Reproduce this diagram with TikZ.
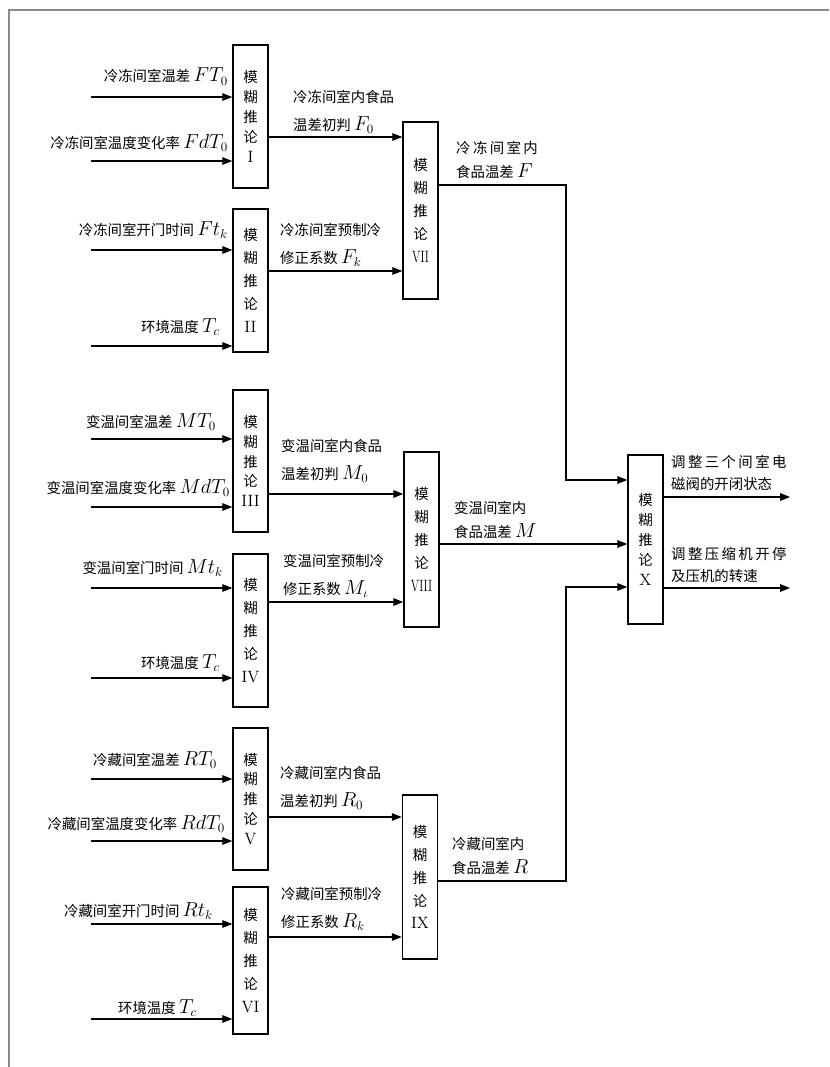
\documentclass[tikz,border=0pt]{standalone}
\usepackage{fontspec}
\usepackage{graphicx}
\usepackage{tikz}
\usetikzlibrary{arrows.meta}
\newfontfamily\cjk{Noto Sans CJK SC}
\definecolor{framegray}{RGB}{140,140,140}
\newcommand{\mv}[1]{{\fontsize{16}{16}\selectfont$#1$}}
\newcommand{\boxfont}[1]{\cjk\fontsize{12.3}{#1}\selectfont}
\newcommand{\rnum}[1]{{\rmfamily\fontsize{14}{14}\selectfont #1}}
\newcommand{\narrow}[1]{\scalebox{0.7}[1]{#1}}
\newcommand{\drawarrow}{\draw[-{Triangle[length=8.5pt,width=6.5pt]}, line width=0.9pt]}

\begin{document}
\begin{tikzpicture}[x=0.03cm, y=-0.03cm,
    fuzzy/.style={draw, line width=1.3pt, minimum width=1.05cm, inner sep=0pt, align=center},
    lbl/.style={font=\cjk\fontsize{12.3}{15}\selectfont, inner sep=0pt, anchor=base east},
    out/.style={font=\cjk\fontsize{12.3}{#1}\selectfont, align=left, anchor=west, inner sep=0pt}]
    \useasboundingbox (0,0) rectangle (829,1067);

    % Draw frame
    \draw[framegray, line width=1.5pt] (9,1067) -- (9,10) -- (829,10);

    % Draw fuzzy boxes
    \foreach \n/\cy/\h/\lsk/\rn in {1/116.5/143/17/I, 2/280.5/143/19.6/II, 3/461/142/17/III,
                                    4/630.5/153/19.6/IV, 5/799/142/17/V, 6/960.5/147/19.6/VI} {
        \node[fuzzy, minimum height=\h*0.03cm, font=\boxfont{\lsk}] (f\n) at (250.5,\cy)
            {模\\糊\\推\\论\\\rnum{\rn}};
    }
    \node[fuzzy, minimum height=177*0.03cm, font=\boxfont{19.6}] (f7) at (420.5,210.5) {模\\糊\\推\\论\\\rnum{\narrow{VII}}};
    \node[fuzzy, minimum height=175*0.03cm, font=\boxfont{19.6}] (f8) at (421.5,539.5) {模\\糊\\推\\论\\\rnum{\narrow{VIII}}};
    \node[fuzzy, minimum height=164*0.03cm, font=\boxfont{19.6}] (f9) at (420,877) {模\\糊\\推\\论\\\rnum{IX}};
    \node[fuzzy, minimum height=169*0.03cm, font=\boxfont{17}] (f10) at (645.5,539.5) {模\\糊\\推\\论\\\rnum{X}};

    % Draw inputs
    \foreach \n/\b/\y in {1/1/97, 2/1/161, 3/2/250, 4/2/346, 5/3/439, 6/3/507,
                          7/4/588, 8/4/678, 9/5/779, 10/5/841, 11/6/924, 12/6/1019} {
        \coordinate (in\n) at (91,\y);
        \drawarrow (in\n) -- (in\n -| f\b.west);
    }

    \node[lbl] (l1) at (228,82) {冷冻间室温差 \mv{FT_0}};
    \node[lbl] (l2) at (228,148) {冷冻间室温度变化率 \mv{FdT_0}};
    \node[lbl] (l3) at (228,235) {冷冻间室开门时间 \mv{Ft_k}};
    \node[lbl] (l4) at (220,332) {环境温度 \mv{T_c}};
    \node[lbl] (l5) at (216,427) {变温间室温差 \mv{MT_0}};
    \node[lbl] (l6) at (230,493) {变温间室温度变化率 \mv{MdT_0}};
    \node[lbl] (l7) at (223,573) {变温间室门时间 \mv{Mt_k}};
    \node[lbl] (l8) at (220,668) {环境温度 \mv{T_c}};
    \node[lbl] (l9) at (217,765) {冷藏间室温差 \mv{RT_0}};
    \node[lbl] (l10) at (225,829) {冷藏间室温度变化率 \mv{RdT_0}};
    \node[lbl] (l11) at (213,916) {冷藏间室开门时间 \mv{Rt_k}};
    \node[lbl] (l12) at (197,1013) {环境温度 \mv{T_c}};

    % Draw first stage outputs
    \foreach \a/\b/\y in {1/7/137, 2/7/271, 3/8/494, 4/8/602, 5/9/817, 6/9/937} {
        \coordinate (mid\a) at (330,\y);
        \drawarrow (f\a.east |- mid\a) -- (mid\a -| f\b.west);
    }

    \node[out=23.8] (o1) at (293,112) {冷冻间室内食品\\温差初判 \mv{F_0}};
    \node[out=23.8] (o2) at (280,245) {冷冻间室预制冷\\修正系数 \mv{F_k}};
    \node[out=23.8] (o3) at (281,461) {变温间室内食品\\温差初判 \mv{M_0}};
    \node[out=23.8] (o4) at (283,576) {变温间室预制冷\\修正系数 \mv{M_\iota}};
    \node[out=23.8] (o5) at (280,788) {冷藏间室内食品\\温差初判 \mv{R_0}};
    \node[out=23.8] (o6) at (281,909) {冷藏间室预制冷\\修正系数 \mv{R_k}};

    % Draw second stage outputs
    \coordinate (kF1) at (566,185);
    \coordinate (kF2) at (566,480);
    \coordinate (kM) at (566,544);
    \coordinate (kR1) at (566,881);
    \coordinate (kR2) at (566,587);
    \drawarrow (f7.east |- kF1) -- (kF1) -- (kF2) -- (kF2 -| f10.west);
    \drawarrow (f8.east |- kM) -- (kM -| f10.west);
    \drawarrow (f9.east |- kR1) -- (kR1) -- (kR2) -- (kR2 -| f10.west);

    \node[out=21] (o7) at (456,160) {冷\,冻\,间\,室\,内\\食品温差 \mv{F}};
    \node[out=21] (o8) at (454,520) {变温间室内\\食品温差 \mv{M}};
    \node[out=21] (o9) at (452,856) {冷藏间室内\\食品温差 \mv{R}};

    % Draw final outputs
    \coordinate (q1) at (790,497);
    \coordinate (q2) at (790,588);
    \drawarrow (f10.east |- q1) -- (q1);
    \drawarrow (f10.east |- q2) -- (q2);

    \node[out=19] (o10) at (671,473) {调\,整\,三\,个\,间\,室\,电\\磁阀的开闭状态};
    \node[out=19] (o11) at (671,565) {调\,整\,压\,缩\,机\,开\,停\\及压机的转速};
\end{tikzpicture}
\end{document}
